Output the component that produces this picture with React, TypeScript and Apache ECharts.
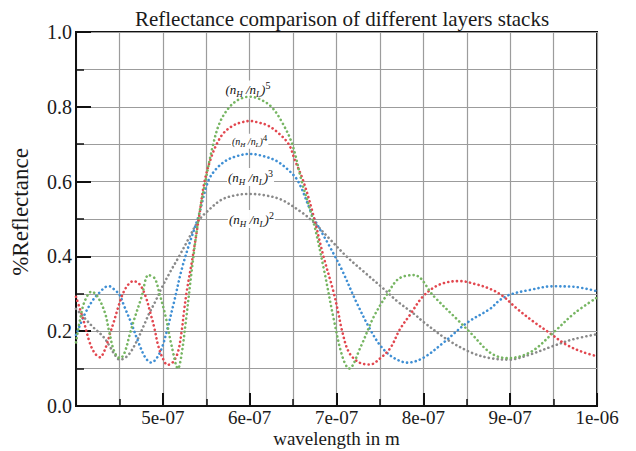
import React, { useEffect, useRef } from "react";
import * as echarts from "echarts";

// wavelength (nm) / reflectance pairs
const grayData: [number, number][] = [
  [400, 0.26], [410, 0.235], [420, 0.21], [428.6, 0.192], [433.9, 0.178], [438.7, 0.16],
  [444.7, 0.137], [450.3, 0.124], [456, 0.128], [462.2, 0.142], [470.5, 0.176], [480, 0.225],
  [483.7, 0.245], [491.5, 0.28], [498.7, 0.316], [508.8, 0.36], [518.7, 0.40], [529.6, 0.447],
  [541, 0.495], [551, 0.52], [568, 0.552], [585, 0.564], [600, 0.567], [616, 0.564],
  [636, 0.552], [658.6, 0.52], [673.4, 0.492], [692, 0.447], [711.5, 0.40], [731, 0.36],
  [753, 0.316], [770, 0.28], [790, 0.245], [800, 0.225], [828, 0.177], [855, 0.143],
  [877, 0.128], [899, 0.124], [922, 0.137], [949, 0.16], [972, 0.178], [1000, 0.192],
];

const blueData: [number, number][] = [
  [400, 0.19], [410, 0.245], [420, 0.285], [428.6, 0.307], [433.9, 0.318], [438.7, 0.32],
  [444.7, 0.31], [450, 0.298], [455.7, 0.266], [463.6, 0.222], [472.1, 0.169], [480, 0.129],
  [486.7, 0.116], [493.5, 0.13], [499.6, 0.16], [505.2, 0.206], [512.8, 0.277], [521.7, 0.365],
  [529.6, 0.427], [541, 0.507], [552, 0.60], [560, 0.63], [572, 0.655], [585, 0.668],
  [600, 0.674], [616, 0.668], [631, 0.655], [645, 0.63], [656, 0.60], [673, 0.507],
  [692, 0.427], [706, 0.365], [723, 0.277], [738.5, 0.206], [751, 0.16], [765, 0.13],
  [782, 0.116], [800, 0.129], [823, 0.169], [850, 0.222], [877, 0.26], [888, 0.283],
  [900, 0.298], [922, 0.31], [949, 0.32], [972, 0.319], [1000, 0.307],
];

const redData: [number, number][] = [
  [400, 0.292], [408.5, 0.23], [416, 0.168], [422, 0.14], [428, 0.13], [431.6, 0.142],
  [435.4, 0.164], [439.5, 0.196], [443.8, 0.227], [448.3, 0.262], [452.2, 0.29], [456, 0.31],
  [460.3, 0.325], [466, 0.334], [473.4, 0.325], [480, 0.294], [485.6, 0.249], [490.3, 0.208],
  [494.8, 0.16], [500, 0.127], [505.5, 0.11], [511.5, 0.117], [517.4, 0.144], [521.7, 0.20],
  [524.5, 0.255], [527.8, 0.31], [534.5, 0.40], [542, 0.51], [548, 0.60], [555, 0.66],
  [562, 0.70], [570, 0.73], [581, 0.75], [590, 0.758], [600, 0.762], [610, 0.758],
  [621, 0.75], [633, 0.73], [645, 0.70], [652, 0.658], [662, 0.60], [673, 0.513],
  [685, 0.40], [696, 0.31], [702, 0.25], [706, 0.205], [714, 0.145], [725.6, 0.117],
  [739, 0.111], [750, 0.127], [762, 0.155], [773, 0.205], [785, 0.245], [800, 0.294],
  [819, 0.325], [842, 0.334], [861.5, 0.325], [877, 0.313], [891.5, 0.294], [907, 0.262],
  [926, 0.227], [945, 0.196], [964.6, 0.164], [984, 0.144], [1000, 0.133],
];

const greenData: [number, number][] = [
  [400, 0.17], [405, 0.235], [410, 0.28], [418, 0.306], [425, 0.292], [433.5, 0.248],
  [438.2, 0.199], [444.2, 0.145], [450.8, 0.128], [455.7, 0.141], [462.2, 0.194], [466.8, 0.23],
  [475.6, 0.292], [483.5, 0.35], [490.7, 0.341], [496.2, 0.30], [503.2, 0.239], [510.3, 0.159],
  [517.5, 0.10], [521.2, 0.132], [526.7, 0.23], [533.4, 0.364], [541, 0.50], [549, 0.60],
  [558, 0.70], [566, 0.76], [577, 0.80], [588, 0.82], [600, 0.827], [612, 0.82],
  [625, 0.80], [637, 0.76], [649, 0.70], [660, 0.60], [673.7, 0.49], [685.6, 0.364],
  [697, 0.23], [706.8, 0.132], [714.5, 0.10], [728, 0.159], [743, 0.239], [758.7, 0.30],
  [772, 0.341], [789.5, 0.35], [812.6, 0.292], [839.6, 0.23], [855, 0.194], [878, 0.141],
  [897, 0.128], [924, 0.145], [951, 0.199], [974, 0.248], [1000, 0.29],
];

const seriesNames = ["(nH/nL)^2", "(nH/nL)^3", "(nH/nL)^4", "(nH/nL)^5"];
const seriesColors = ["#8a8a8a", "#3f8fd4", "#e2474f", "#76b562"];
const labelExponents = ["2", "3", "4", "5"];
const labelPositions: [number, number][] = [[602, 0.50], [601, 0.612], [600, 0.708], [598, 0.846]];

const xTickValues = [500, 600, 700, 800, 900, 1000];
const xTickLabels = ["5e-07", "6e-07", "7e-07", "8e-07", "9e-07", "1e-06"];

const SERIF = "'Liberation Serif', 'DejaVu Serif', serif";

export default function App() {
  const ref = useRef<HTMLDivElement>(null);

  useEffect(() => {
    if (!ref.current) return;
    const chart = echarts.init(ref.current, undefined, { renderer: "svg" });
    const datasets = [grayData, blueData, redData, greenData];

    const richBig = {
      p: { fontFamily: SERIF, fontSize: 13, fontStyle: "italic", color: "#111", lineHeight: 18 },
      s: { fontFamily: SERIF, fontSize: 9, fontStyle: "italic", color: "#111", verticalAlign: "bottom", lineHeight: 11 },
      e: { fontFamily: SERIF, fontSize: 10, color: "#111", verticalAlign: "top", lineHeight: 11 },
    };
    const richSmall = {
      p: { fontFamily: SERIF, fontSize: 10, fontStyle: "italic", color: "#111", lineHeight: 15 },
      s: { fontFamily: SERIF, fontSize: 7, fontStyle: "italic", color: "#111", verticalAlign: "bottom", lineHeight: 9 },
      e: { fontFamily: SERIF, fontSize: 9, color: "#111", verticalAlign: "top", lineHeight: 10 },
    };

    const markData = labelExponents.map((ex, i) => ({
      coord: labelPositions[i],
      label: {
        show: true,
        position: "inside",
        backgroundColor: "rgba(255,255,255,0.95)",
        padding: [0, 1, 0, 1],
        formatter: `{p|(n}{s|H}{p| /n}{s|L}{p|)}{e|${ex}}`,
        rich: ex === "4" ? richSmall : richBig,
      },
    }));

    const series: any[] = datasets.map((d, i) => ({
      name: seriesNames[i],
      type: "line",
      data: d,
      smooth: 0.35,
      showSymbol: false,
      symbol: "none",
      clip: true,
      lineStyle: { color: seriesColors[i], width: 2.6, type: [0.1, 4.3], cap: "round" },
      z: 3 + i,
    }));
    series.push({
      name: "labels",
      type: "line",
      data: [],
      z: 20,
      markPoint: {
        symbol: "circle",
        symbolSize: 1,
        itemStyle: { color: "rgba(0,0,0,0)" },
        silent: true,
        data: markData,
      },
    });

    const axisText = { fontFamily: SERIF, fontSize: 20, color: "#1a1a1a" };

    chart.setOption({
      animation: false,
      backgroundColor: "#ffffff",
      title: {
        text: "Reflectance comparison of different layers stacks",
        left: 337,
        top: 3,
        textAlign: "center",
        textStyle: { fontFamily: SERIF, fontSize: 21, fontWeight: "normal", color: "#1a1a1a" },
      },
      grid: {
        left: 76,
        right: 39,
        top: 32,
        bottom: 45,
        outerBoundsMode: "none",
        containLabel: false,
        show: true,
        borderColor: "#111",
        borderWidth: 2,
        backgroundColor: "#fff",
      },
      xAxis: {
        type: "value",
        min: 400,
        max: 1000,
        interval: 100,
        name: "wavelength in m",
        nameLocation: "middle",
        nameGap: 23,
        nameMoveOverlap: false,
        nameTextStyle: { ...axisText, fontSize: 19, lineHeight: 19, verticalAlign: "top" },
        axisLine: { show: true, onZero: false, lineStyle: { color: "#111", width: 2 } },
        axisTick: { show: true, inside: true, length: 13, lineStyle: { color: "#111", width: 2 } },
        minorTick: { show: true, splitNumber: 2, length: 7, lineStyle: { color: "#111", width: 1.5 } },
        splitLine: { show: true, lineStyle: { color: "#9c9c9c", width: 1.2 } },
        minorSplitLine: { show: true, lineStyle: { color: "#9c9c9c", width: 1.2 } },
        axisLabel: {
          ...axisText,
          fontSize: 19,
          lineHeight: 16,
          margin: 3,
          formatter: (v: number) => {
            const k = xTickValues.indexOf(Math.round(v));
            return k >= 0 ? xTickLabels[k] : "";
          },
        },
      },
      yAxis: {
        type: "value",
        min: 0,
        max: 1,
        interval: 0.2,
        name: "%Reflectance",
        nameLocation: "middle",
        nameGap: 44,
        nameMoveOverlap: false,
        nameTextStyle: { ...axisText, fontSize: 23, padding: [0, 0, 0, 14] },
        axisLine: { show: true, onZero: false, lineStyle: { color: "#111", width: 2 } },
        axisTick: { show: true, inside: true, length: 15, lineStyle: { color: "#111", width: 2 } },
        minorTick: { show: true, splitNumber: 2, length: 8, lineStyle: { color: "#111", width: 1.5 } },
        splitLine: { show: true, lineStyle: { color: "#9c9c9c", width: 1.2 } },
        minorSplitLine: { show: true, lineStyle: { color: "#9c9c9c", width: 1.2 } },
        axisLabel: {
          ...axisText,
          margin: 4,
          formatter: (v: number) => v.toFixed(1),
        },
      },
      series,
    });

    return () => chart.dispose();
  }, []);

  return (
    <div
      ref={ref}
      style={{ position: "fixed", left: 0, top: 0, width: 636, height: 451, background: "#fff" }}
    />
  );
}
